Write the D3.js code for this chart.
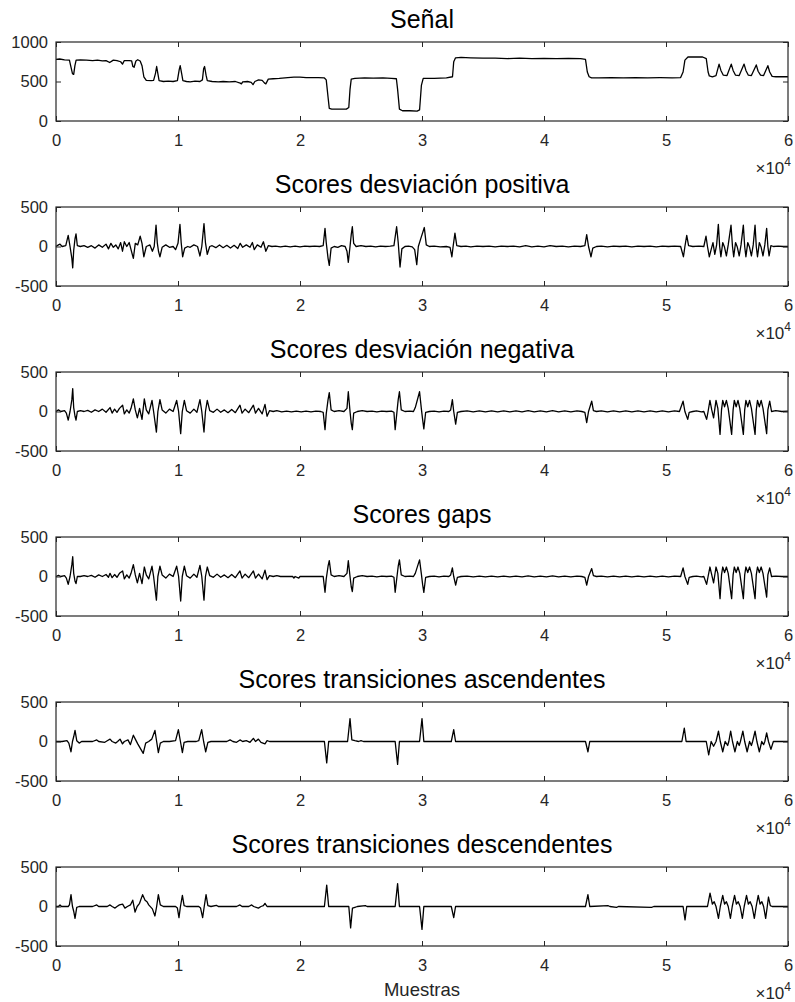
<!DOCTYPE html>
<html>
<head>
<meta charset="utf-8">
<script src="https://cdn.jsdelivr.net/npm/d3@7"></script>
<style>
  html, body { margin: 0; padding: 0; background: #fff; }
  svg { display: block; font-family: "Liberation Sans", Arial, Helvetica, sans-serif; }
</style>
</head>
<body>
<svg id="fig" width="795" height="1002"></svg>
<script>
// Panel titles and axis ticks
const titles = [
  "Señal",
  "Scores desviación positiva",
  "Scores desviación negativa",
  "Scores gaps",
  "Scores transiciones ascendentes",
  "Scores transiciones descendentes"
];
const xTicks = [0, 10000, 20000, 30000, 40000, 50000, 60000];
const signalTicks = [0, 500, 1000];
const scoreTicks = [-500, 0, 500];
const xLabel = "Muestras";

// Raw signal, [sample, value]
const signalPts = [[0,780],[300,785],[700,775],[1100,770],[1200,700],[1350,600],[1450,590],[1550,700],[1650,770],[2000,775],[2500,770],[3000,765],[3400,770],[3800,760],[4100,765],[4400,740],[4700,770],[5000,765],[5300,750],[5450,720],[5600,765],[6000,765],[6200,760],[6300,690],[6400,680],[6550,760],[6700,775],[6900,760],[7050,700],[7200,560],[7400,515],[7800,510],[8000,515],[8150,600],[8250,690],[8350,600],[8450,510],[8800,500],[9200,505],[9600,500],[9950,510],[10100,650],[10180,700],[10300,600],[10400,510],[10700,500],[11000,495],[11400,505],[11800,500],[12000,520],[12100,660],[12180,690],[12300,580],[12400,510],[12800,500],[13300,495],[13700,500],[14200,495],[14700,500],[15100,480],[15200,470],[15300,495],[15700,500],[16000,490],[16150,460],[16300,500],[16600,520],[16900,515],[17100,480],[17200,470],[17400,530],[17800,535],[18300,540],[19000,550],[19500,555],[20000,555],[20500,550],[21000,550],[21500,548],[22000,545],[22150,520],[22300,300],[22400,160],[22600,150],[23200,150],[23800,150],[24000,170],[24100,400],[24200,530],[24500,540],[25300,545],[26000,542],[26800,545],[27500,540],[27900,535],[28000,400],[28150,150],[28400,130],[29000,130],[29600,125],[29800,140],[29950,450],[30100,540],[31000,540],[32000,545],[32500,560],[32600,750],[32750,800],[33200,805],[34000,800],[35000,795],[36000,795],[37000,790],[38000,795],[39000,790],[40000,792],[41000,790],[42000,792],[43000,790],[43400,780],[43550,620],[43700,560],[43900,545],[44500,545],[45500,548],[46500,545],[47500,548],[48500,546],[49500,548],[50500,547],[51200,550],[51400,620],[51550,770],[51800,810],[52400,812],[53000,810],[53300,790],[53450,620],[53550,570],[53800,560],[54100,575],[54350,720],[54500,640],[54700,580],[55000,575],[55350,720],[55500,640],[55700,580],[56000,575],[56400,720],[56550,640],[56750,580],[57000,575],[57400,710],[57550,630],[57750,580],[58000,575],[58350,700],[58500,620],[58700,565],[59000,560],[60000,560]];

// Positive deviation scores
const devPosPts = [[0,0],[200,20],[330,30],[500,0],[800,10],[1000,140],[1150,0],[1300,-150],[1370,-270],[1450,-50],[1560,100],[1640,160],[1750,10],[2000,0],[2300,10],[2600,-10],[2900,10],[3200,-20],[3500,20],[3800,-10],[4100,30],[4300,-30],[4500,40],[4700,-10],[4900,20],[5100,-30],[5300,50],[5450,-60],[5600,60],[5800,0],[6000,50],[6150,-40],[6340,-150],[6500,40],[6700,20],[6900,130],[7050,40],[7200,-130],[7400,0],[7700,20],[7900,-60],[8050,0],[8200,270],[8300,50],[8400,-60],[8520,-130],[8700,-10],[9000,20],[9300,-10],[9600,0],[9800,-40],[10000,40],[10160,280],[10260,50],[10380,-130],[10550,-20],[10800,0],[11000,-10],[11300,20],[11600,0],[11800,-120],[11950,0],[12130,290],[12250,50],[12400,-100],[12600,0],[12800,10],[13100,-15],[13400,20],[13700,-15],[14000,15],[14300,-20],[14600,15],[14900,-25],[15100,40],[15300,-10],[15600,20],[15900,-10],[16100,50],[16250,-40],[16500,20],[16800,-10],[17000,60],[17200,-60],[17400,10],[17700,0],[18000,5],[18400,-5],[18800,5],[19200,-5],[19600,5],[20000,-5],[20400,5],[20800,0],[21200,5],[21600,0],[21900,10],[22050,230],[22150,50],[22300,-150],[22400,-240],[22550,-20],[22800,0],[23100,-10],[23400,10],[23700,0],[23850,-60],[23960,-200],[24100,0],[24200,150],[24290,250],[24400,40],[24600,0],[25000,10],[25400,0],[25800,5],[26200,-5],[26600,5],[27000,0],[27400,5],[27700,10],[27920,250],[28050,50],[28200,-260],[28350,-30],[28600,0],[28900,5],[29200,-5],[29400,-40],[29570,-230],[29700,0],[29900,100],[30190,240],[30350,20],[30600,0],[31000,5],[31500,-5],[32000,0],[32300,-10],[32450,-130],[32550,0],[32700,170],[32850,10],[33200,0],[33600,5],[34000,-5],[34500,5],[35000,0],[35500,5],[36000,-5],[36500,5],[37000,0],[37500,5],[38000,-5],[38500,10],[39000,-5],[39500,5],[40000,-5],[40500,10],[41000,0],[41500,5],[42000,-5],[42500,5],[43000,0],[43350,10],[43500,150],[43650,0],[43850,-130],[44000,-20],[44300,0],[44700,5],[45200,-5],[45700,5],[46200,0],[46700,5],[47200,-5],[47700,5],[48200,0],[48700,5],[49200,-5],[49700,5],[50200,0],[50700,5],[51200,0],[51430,-130],[51550,0],[51700,140],[51850,10],[52200,0],[52700,5],[53100,0],[53280,130],[53400,0],[53550,-130],[53700,-40],[53850,50],[54000,-100],[54150,20],[54290,280],[54400,0],[54500,-130],[54650,50],[54800,-10],[54950,-120],[55100,20],[55330,270],[55450,0],[55550,-130],[55700,50],[55850,-10],[56000,-120],[56150,20],[56340,270],[56450,0],[56550,-130],[56700,50],[56850,-10],[57000,-120],[57150,20],[57300,270],[57400,0],[57500,-130],[57650,50],[57800,-10],[57950,-120],[58100,20],[58250,230],[58350,0],[58450,-120],[58600,10],[58800,0],[59200,5],[59600,0],[60000,0]];

// Negative deviation scores
const devNegPts = [[0,0],[200,20],[400,0],[700,10],[850,-20],[1000,-110],[1150,0],[1300,150],[1370,290],[1450,50],[1560,-60],[1640,-110],[1750,0],[2000,10],[2300,0],[2600,15],[2900,-10],[3200,20],[3500,0],[3800,30],[4100,-10],[4430,50],[4600,-20],[4800,30],[5000,-10],[5200,40],[5460,80],[5600,-30],[5800,20],[6000,-20],[6150,40],[6340,160],[6500,20],[6670,-80],[6850,40],[7050,-100],[7240,160],[7400,20],[7600,-30],[7870,140],[8000,0],[8230,-260],[8350,0],[8520,150],[8700,20],[9000,-20],[9300,30],[9600,0],[9890,140],[10050,0],[10220,-280],[10350,0],[10520,140],[10700,10],[11000,-20],[11300,30],[11550,-10],[11800,150],[11950,0],[12130,-260],[12250,0],[12400,140],[12600,10],[12900,-10],[13200,30],[13500,-10],[13800,20],[14100,-15],[14400,25],[14700,-15],[15080,80],[15250,-20],[15500,30],[15800,-15],[16180,80],[16350,-20],[16600,40],[16900,-30],[17130,90],[17300,-60],[17500,10],[17800,0],[18100,10],[18500,-5],[18900,5],[19300,-5],[19700,5],[20100,-5],[20500,5],[20900,-5],[21300,5],[21700,0],[21900,-10],[22050,-230],[22150,-30],[22300,150],[22400,240],[22550,20],[22800,0],[23200,10],[23600,0],[23850,40],[23960,250],[24100,0],[24200,-150],[24290,-230],[24400,-20],[24700,0],[25100,10],[25500,0],[25900,5],[26300,-5],[26700,5],[27100,0],[27500,5],[27700,-10],[27800,-230],[27950,0],[28050,150],[28150,250],[28300,20],[28600,0],[29000,5],[29300,0],[29450,50],[29800,250],[29950,30],[30050,-100],[30150,-220],[30300,-10],[30600,0],[31000,5],[31400,-5],[31800,5],[32200,0],[32350,20],[32490,150],[32600,0],[32760,-160],[32900,-10],[33200,0],[33700,8],[34200,-5],[34700,8],[35200,-5],[35700,8],[36200,-5],[36700,8],[37200,-5],[37700,8],[38200,-5],[38700,10],[39200,-5],[39700,8],[40200,-5],[40700,10],[41200,-5],[41700,8],[42200,-5],[42700,8],[43100,0],[43350,-10],[43500,-140],[43650,0],[43910,130],[44050,10],[44300,0],[44700,8],[45200,-5],[45700,8],[46200,-5],[46700,8],[47200,-5],[47700,8],[48200,-5],[48700,8],[49200,-5],[49700,8],[50200,-5],[50700,8],[51100,0],[51400,130],[51550,0],[51780,-100],[51900,-10],[52200,0],[52500,8],[52900,-5],[53100,0],[53330,-100],[53450,0],[53600,140],[53750,20],[53900,-80],[54100,140],[54250,40],[54430,-290],[54550,20],[54650,140],[54800,60],[54950,140],[55100,40],[55380,-290],[55500,20],[55600,140],[55750,60],[55900,140],[56050,40],[56340,-290],[56450,20],[56550,140],[56700,60],[56850,140],[57000,40],[57300,-290],[57400,20],[57500,140],[57650,60],[57800,140],[57950,40],[58250,-280],[58350,20],[58500,130],[58650,0],[59000,10],[59500,0],[60000,5]];

// Gap scores
const gapsPts = [[0,0],[200,15],[400,0],[700,10],[850,-20],[1000,-100],[1150,0],[1300,150],[1370,250],[1450,40],[1560,-60],[1640,-90],[1750,0],[2000,0],[2300,10],[2600,0],[2900,15],[3200,-10],[3500,20],[3800,0],[4100,25],[4300,-10],[4430,40],[4600,-15],[4800,25],[5000,-10],[5200,40],[5460,70],[5600,-30],[5800,20],[6000,-20],[6150,40],[6340,150],[6500,20],[6670,-80],[6850,40],[7050,-90],[7240,120],[7400,20],[7600,-30],[7870,130],[8000,0],[8230,-300],[8350,0],[8520,130],[8700,20],[9000,-20],[9300,30],[9600,0],[9890,130],[10050,0],[10220,-310],[10350,0],[10520,130],[10700,10],[11000,-20],[11300,30],[11550,-10],[11800,140],[11950,0],[12130,-300],[12250,0],[12400,120],[12600,10],[12900,-10],[13200,30],[13500,-10],[13800,20],[14100,-15],[14400,25],[14700,-15],[15080,70],[15250,-20],[15500,30],[15800,-15],[16180,70],[16350,-20],[16600,30],[16900,-30],[17130,80],[17300,-40],[17500,10],[17800,0],[18100,10],[18400,0],[19400,0],[19500,-20],[19600,0],[19900,-20],[20000,0],[21900,0],[22050,-200],[22150,-30],[22300,130],[22400,200],[22550,20],[22800,0],[23200,10],[23600,0],[23850,40],[23960,200],[24100,0],[24200,-130],[24290,-190],[24400,-20],[24700,0],[25100,10],[25500,0],[25900,5],[26300,-5],[26700,5],[27100,0],[27500,5],[27700,-10],[27800,-200],[27950,0],[28050,130],[28150,210],[28300,20],[28600,0],[29000,5],[29300,0],[29450,40],[29800,210],[29950,30],[30050,-100],[30150,-200],[30300,-10],[30600,0],[31000,5],[31400,-5],[31800,5],[32200,0],[32350,20],[32490,110],[32600,0],[32760,-110],[32900,-10],[33200,0],[33700,6],[34200,-4],[34700,6],[35200,-4],[35700,6],[36200,-4],[36700,6],[37200,-4],[37700,6],[38200,-4],[38700,8],[39200,-4],[39700,6],[40200,-4],[40700,8],[41200,-4],[41700,6],[42200,-4],[42700,6],[43100,0],[43350,-10],[43500,-110],[43650,0],[43910,100],[44050,10],[44300,0],[44700,6],[45200,-4],[45700,6],[46200,-4],[46700,6],[47200,-4],[47700,6],[48200,-4],[48700,6],[49200,-4],[49700,6],[50200,-4],[50700,6],[51200,0],[51400,110],[51550,0],[51780,-100],[51900,-10],[52200,0],[52500,5],[52900,-5],[53100,0],[53330,-100],[53450,0],[53600,120],[53750,20],[53900,-80],[54100,120],[54250,40],[54430,-280],[54550,20],[54650,120],[54800,50],[54950,120],[55100,40],[55380,-280],[55500,20],[55600,120],[55750,50],[55900,120],[56050,40],[56340,-280],[56450,20],[56550,120],[56700,50],[56850,120],[57000,40],[57300,-280],[57400,20],[57500,120],[57650,50],[57800,120],[57950,40],[58250,-260],[58350,20],[58500,110],[58650,0],[59000,5],[59500,0],[60000,0]];

// Rising-transition scores
const ascPts = [[0,0],[500,0],[900,10],[1050,-20],[1230,-130],[1350,0],[1450,60],[1560,140],[1700,10],[1900,-20],[2100,0],[3000,0],[3340,20],[3500,0],[4000,-10],[4200,10],[4430,30],[4600,0],[4900,-20],[5050,0],[5250,30],[5450,-30],[5600,0],[5900,20],[6100,-40],[6340,80],[6500,30],[6700,-30],[7150,-150],[7350,-20],[7600,0],[7850,30],[8110,140],[8250,0],[8390,-140],[8550,-20],[8800,0],[9300,0],[9800,10],[10030,150],[10200,0],[10360,-140],[10500,-10],[10800,0],[11500,0],[11700,10],[11940,150],[12100,0],[12270,-130],[12450,-10],[12700,0],[13300,0],[14000,0],[14270,20],[14500,0],[14800,-10],[15080,20],[15300,0],[15600,10],[15900,-10],[16180,40],[16350,0],[16590,30],[16800,-10],[17130,-30],[17300,10],[17500,0],[22000,0],[22190,-270],[22350,0],[23900,0],[24100,290],[24250,20],[24500,10],[24800,0],[25000,10],[25200,0],[27800,0],[28000,-290],[28150,0],[29800,0],[30000,290],[30150,0],[32400,0],[32600,150],[32750,0],[43400,0],[43600,-130],[43750,0],[51300,0],[51500,170],[51650,0],[53300,0],[53500,-170],[53700,0],[53900,-60],[54100,0],[54300,130],[54450,0],[54650,-130],[54850,0],[55050,-50],[55150,0],[55300,130],[55450,0],[55650,-130],[55850,0],[56000,-50],[56100,0],[56300,130],[56450,0],[56650,-130],[56850,0],[57000,-50],[57100,0],[57300,130],[57450,0],[57650,-130],[57850,0],[58000,-40],[58100,0],[58250,110],[58400,0],[58600,-100],[58800,0],[60000,0]];

// Falling-transition scores
const descPts = [[0,0],[200,0],[330,20],[450,0],[1000,0],[1100,20],[1230,150],[1350,0],[1450,-60],[1560,-150],[1700,-10],[1900,0],[3000,0],[3340,20],[3500,0],[4200,0],[4430,20],[4600,0],[4840,-20],[5000,0],[5200,20],[5460,30],[5650,-20],[5850,0],[6100,20],[6290,80],[6480,-70],[6650,0],[6850,40],[7100,150],[7300,80],[7460,60],[7600,20],[7900,-30],[8110,-120],[8250,0],[8390,150],[8550,20],[8800,0],[9800,0],[9950,-20],[10080,-140],[10200,0],[10360,140],[10500,10],[10700,0],[11700,0],[11850,-20],[12020,-140],[12150,0],[12300,150],[12450,10],[12700,0],[13150,15],[13300,0],[14800,0],[15080,20],[15250,0],[15800,0],[16040,20],[16200,0],[16590,-20],[16800,0],[17000,10],[17130,40],[17300,0],[22000,0],[22190,270],[22350,0],[24000,0],[24150,-270],[24300,-20],[24500,-10],[24700,0],[25360,10],[25500,0],[27800,0],[28000,290],[28150,0],[29800,0],[30000,-290],[30150,0],[32400,0],[32600,-140],[32750,0],[43400,0],[43600,150],[43750,0],[45270,10],[45400,0],[45950,-10],[46100,0],[48820,-10],[49000,0],[51400,0],[51560,-170],[51700,0],[53400,0],[53610,170],[53800,30],[53950,60],[54100,0],[54300,-150],[54450,0],[54650,140],[54800,30],[54950,60],[55100,0],[55280,-150],[55430,0],[55620,140],[55770,30],[55920,60],[56080,0],[56260,-150],[56410,0],[56600,140],[56750,30],[56900,60],[57060,0],[57240,-150],[57390,0],[57560,140],[57710,30],[57860,60],[58000,0],[58170,-150],[58300,0],[58400,120],[58550,10],[58700,0],[60000,0]];

const panels = [
  { title: titles[0], data: signalPts, domain: [0, 1000], ticks: signalTicks },
  { title: titles[1], data: devPosPts, domain: [-500, 500], ticks: scoreTicks },
  { title: titles[2], data: devNegPts, domain: [-500, 500], ticks: scoreTicks },
  { title: titles[3], data: gapsPts, domain: [-500, 500], ticks: scoreTicks },
  { title: titles[4], data: ascPts, domain: [-500, 500], ticks: scoreTicks },
  { title: titles[5], data: descPts, domain: [-500, 500], ticks: scoreTicks }
];

const svg = d3.select("#fig");
const left = 56, right = 788, plotH = 79, step = 165, firstTop = 42;
const axisColor = "#262626";
const tickLen = 5;

const x = d3.scaleLinear().domain([0, 60000]).range([left, right]);

panels.forEach((p, i) => {
  const top = firstTop + i * step;
  const bottom = top + plotH;
  const y = d3.scaleLinear().domain(p.domain).range([bottom, top]);
  const g = svg.append("g");

  // data trace
  const line = d3.line().x(d => x(d[0])).y(d => y(d[1]));
  g.append("path")
    .datum(p.data)
    .attr("d", line)
    .attr("fill", "none")
    .attr("stroke", "#000")
    .attr("stroke-width", 1.3)
    .attr("stroke-linejoin", "round");

  // bottom axis with inward ticks and labels
  const xb = g.append("g").attr("transform", `translate(0,${bottom})`)
    .call(d3.axisBottom(x).tickValues(xTicks).tickFormat(d => d / 10000)
      .tickSizeInner(-tickLen).tickSizeOuter(0).tickPadding(13.4));
  // top axis, ticks only
  const xt = g.append("g").attr("transform", `translate(0,${top})`)
    .call(d3.axisTop(x).tickValues(xTicks).tickFormat("")
      .tickSizeInner(-tickLen).tickSizeOuter(0));
  // left axis with labels
  const yl = g.append("g").attr("transform", `translate(${left},0)`)
    .call(d3.axisLeft(y).tickValues(p.ticks).tickFormat(d => String(d))
      .tickSizeInner(-tickLen).tickSizeOuter(0).tickPadding(8));
  // right axis, ticks only
  const yr = g.append("g").attr("transform", `translate(${right},0)`)
    .call(d3.axisRight(y).tickValues(p.ticks).tickFormat("")
      .tickSizeInner(-tickLen).tickSizeOuter(0));

  [xb, xt, yl, yr].forEach(a => {
    a.select(".domain").remove();
    a.selectAll("line").attr("stroke", axisColor).attr("stroke-width", 1);
    a.selectAll("text").attr("fill", axisColor)
      .style("font-size", "16.5px").style("font-family", "Liberation Sans, Arial, sans-serif");
  });

  // axes box
  g.append("rect")
    .attr("x", left).attr("y", top)
    .attr("width", right - left).attr("height", plotH)
    .attr("fill", "none").attr("stroke", axisColor).attr("stroke-width", 1.2);

  // title
  g.append("text")
    .attr("x", (left + right) / 2).attr("y", top - 14)
    .attr("text-anchor", "middle")
    .attr("fill", "#000")
    .style("font-size", "25px")
    .text(p.title);

  // x exponent label
  const ex = g.append("text")
    .attr("x", right + 3).attr("y", bottom + 53)
    .attr("text-anchor", "end")
    .attr("fill", axisColor)
    .style("font-size", "17px");
  ex.append("tspan").text("×10");
  ex.append("tspan").attr("dy", -8).style("font-size", "12px").text("4");
});

// x axis label of the last panel
svg.append("text")
  .attr("x", (left + right) / 2).attr("y", 996)
  .attr("text-anchor", "middle")
  .attr("fill", axisColor)
  .style("font-size", "18.5px")
  .text(xLabel);
</script>
</body>
</html>
